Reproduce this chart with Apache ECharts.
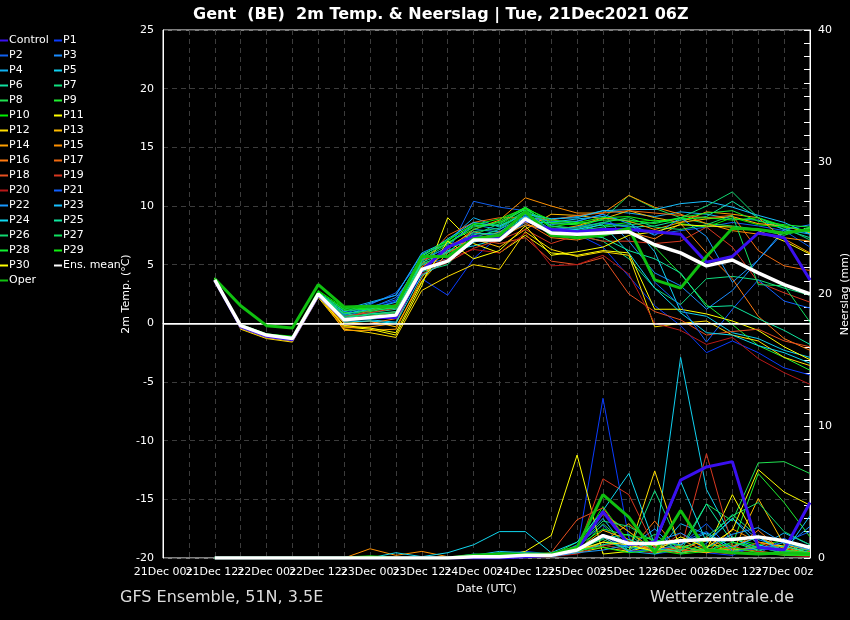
<!DOCTYPE html>
<html>
<head>
<meta charset="utf-8">
<script src="https://cdn.jsdelivr.net/npm/echarts@6/dist/echarts.min.js"></script>
<style>
html, body { margin: 0; padding: 0; background: #000; }
#main { width: 850px; height: 620px; }
</style>
</head>
<body>
<div id="main"></div>
<script>
// forecast hours after 21Dec 00z
var hours = [12, 18, 24, 30, 36, 42, 48, 54, 60, 66, 72, 78, 84, 90, 96, 102, 108, 114, 120, 126, 132, 138, 144, 150];
var dateLabels = ['21Dec 00z', '21Dec 12z', '22Dec 00z', '22Dec 12z', '23Dec 00z', '23Dec 12z',
    '24Dec 00z', '24Dec 12z', '25Dec 00z', '25Dec 12z', '26Dec 00z', '26Dec 12z', '27Dec 00z'];

var memberNames = ['P1', 'P2', 'P3', 'P4', 'P5', 'P6', 'P7', 'P8', 'P9', 'P10',
    'P11', 'P12', 'P13', 'P14', 'P15', 'P16', 'P17', 'P18', 'P19', 'P20',
    'P21', 'P22', 'P23', 'P24', 'P25', 'P26', 'P27', 'P28', 'P29', 'P30'];
var memberColors = ['#0a3cff', '#1060f0', '#1a8cff', '#10b0f0', '#10d0f0', '#10e0a0', '#10e080', '#20e050', '#20f030', '#00f000',
    '#ffff00', '#ffdd00', '#ffbb00', '#ffa000', '#ff9000', '#ff7a10', '#f06a10', '#e85020', '#d83820', '#b81818',
    '#1060ff', '#1898ff', '#18c0ff', '#10d8f0', '#10e8a0', '#10d870', '#10e060', '#10f030', '#10f010', '#ffff00'];

// 2m temperature (°C)
var tempControl = [3.7, -0.3, -1.1, -1.4, 2.4, 0.3, 0.5, 0.5, 4.5, 6.5, 7.4, 7.2, 8.8, 8.0, 7.8, 8.0, 8.0, 7.8, 7.6, 5.2, 5.7, 7.7, 7.3, 3.7];
var tempOper = [3.8, 1.5, -0.2, -0.4, 3.3, 1.4, 1.45, 1.45, 5.7, 5.7, 7.2, 7.5, 9.5, 7.5, 7.3, 7.5, 8.1, 3.7, 3.0, 5.7, 8.1, 8.0, 7.7, 8.0];
var tempMean = [3.7, -0.2, -1.0, -1.3, 2.5, 0.3, 0.5, 0.7, 4.6, 5.3, 7.1, 7.1, 8.9, 7.7, 7.6, 7.7, 7.8, 6.7, 6.0, 4.9, 5.4, 4.3, 3.3, 2.5];
var tempMembers = [
    [3.8, -0.4, -1.2, -1.5, 2.3, 0.6, 1.2, 1.9, 3.8, 2.4, 5.5, 7.5, 8.4, 7.8, 7.6, 6.5, 4.0, 1.5, -0.2, -2.5, -1.5, -2.5, -3.8, -4.4],
    [3.8, -0.3, -1.1, -1.4, 2.4, 0.8, 1.6, 2.6, 5.5, 6.0, 10.4, 9.9, 9.6, 8.3, 8.0, 8.6, 8.3, 7.6, 7.9, 8.2, 8.6, 8.3, 7.9, 6.5],
    [3.7, -0.2, -1.0, -1.3, 2.6, 1.0, 1.3, 2.2, 5.0, 5.5, 8.0, 7.8, 9.2, 8.4, 8.7, 9.3, 7.0, 4.3, 3.2, 1.2, 2.8, 5.4, 7.8, 7.8],
    [3.8, -0.2, -1.0, -1.2, 2.6, 1.2, 1.8, 2.4, 6.0, 7.0, 9.0, 8.2, 9.4, 8.9, 9.1, 9.6, 9.4, 9.1, 9.5, 9.3, 8.9, 8.8, 8.0, 7.6],
    [3.7, -0.3, -1.2, -1.4, 2.5, 0.3, 0.3, 0.1, 4.6, 6.2, 6.6, 7.2, 8.6, 8.6, 8.9, 9.1, 8.7, 6.1, 1.0, 0.6, -0.8, -1.3, -2.3, -2.9],
    [3.8, -0.1, -0.9, -1.2, 2.7, 0.7, 0.9, 1.2, 5.3, 6.5, 7.0, 7.5, 9.0, 8.0, 7.8, 8.5, 8.2, 8.3, 8.8, 9.1, 10.4, 9.0, 8.0, 7.3],
    [3.8, -0.2, -1.0, -1.2, 2.6, 0.2, 0.4, 0.5, 4.4, 5.0, 7.3, 8.0, 9.5, 7.8, 7.5, 7.0, 5.5, 3.0, 1.6, 3.8, 4.0, 3.7, 3.0, 2.4],
    [3.8, -0.2, -1.0, -1.3, 2.5, 0.4, 0.8, 0.9, 5.1, 5.8, 7.5, 8.5, 9.9, 8.1, 8.2, 8.9, 10.9, 9.8, 9.0, 8.5, 8.3, 8.0, 7.5, 8.2],
    [3.8, -0.3, -1.1, -1.4, 2.5, 0.9, 1.0, 1.4, 5.6, 6.8, 8.2, 8.6, 9.7, 8.5, 8.4, 7.9, 8.0, 6.5, 4.2, 1.6, -0.1, -1.9, -2.9, -4.0],
    [3.9, -0.1, -0.9, -1.1, 2.8, 1.3, 1.4, 1.5, 5.8, 7.0, 8.5, 8.3, 9.6, 8.2, 8.6, 8.3, 8.6, 8.8, 8.5, 8.2, 9.0, 8.4, 8.2, 7.9],
    [3.8, -0.4, -1.2, -1.5, 2.3, -0.3, -0.5, -1.0, 3.2, 9.0, 6.8, 6.0, 7.5, 6.0, 5.8, 6.2, 6.0, 1.2, 1.2, 0.8, 0.2, -0.6, -2.0, -3.1],
    [3.7, -0.5, -1.3, -1.6, 2.2, -0.5, -0.8, -1.2, 2.8, 4.0, 5.0, 4.6, 7.8, 6.3, 5.7, 6.1, 5.8, -0.3, 0.0, 0.2, -1.0, -1.5, -2.9, -3.6],
    [3.8, -0.3, -1.2, -1.4, 2.4, 0.0, 0.2, -0.3, 3.6, 6.0, 7.2, 6.5, 8.0, 9.3, 9.2, 8.9, 9.6, 9.0, 8.6, 8.9, 9.1, 8.5, 8.3, 7.7],
    [3.8, -0.3, -1.1, -1.4, 2.4, -0.6, -0.6, -0.5, 3.9, 6.5, 7.8, 7.3, 8.4, 7.9, 8.3, 9.0, 8.7, 8.0, 8.6, 9.5, 9.3, 9.0, 7.2, 6.0],
    [3.8, -0.2, -1.1, -1.3, 2.5, -0.4, -0.3, 0.0, 4.8, 6.3, 8.0, 8.8, 10.7, 10.0, 9.4, 9.4, 10.9, 9.9, 9.3, 8.5, 7.9, 7.6, 7.3, 7.0],
    [3.8, -0.3, -1.0, -1.3, 2.5, -0.2, 0.0, 0.4, 4.5, 6.6, 7.0, 7.8, 8.6, 7.3, 7.1, 7.6, 7.8, 7.2, 8.5, 6.0, 3.8, 0.6, -1.3, -2.3],
    [3.8, -0.2, -1.0, -1.3, 2.6, 0.1, 0.6, 1.0, 5.0, 7.5, 8.6, 9.0, 9.0, 8.8, 9.2, 9.4, 9.6, 9.4, 9.2, 9.0, 9.2, 6.2, 4.9, 4.5],
    [3.7, -0.4, -1.2, -1.5, 2.3, 0.4, 1.1, 1.6, 5.4, 6.0, 7.2, 6.8, 7.3, 5.3, 5.0, 5.6, 2.5, 1.0, 0.3, -1.0, -0.7, -0.5, -1.5, -2.0],
    [3.8, -0.3, -1.1, -1.4, 2.4, 0.6, 0.9, 1.3, 4.2, 5.2, 6.4, 7.1, 8.0, 6.8, 7.5, 7.0, 7.0, 6.8, 7.0, 8.2, 6.5, 3.5, 2.6, 1.8],
    [3.8, -0.3, -1.1, -1.4, 2.4, 0.3, 0.5, 0.8, 4.7, 5.5, 6.3, 6.0, 7.7, 4.9, 5.0, 5.8, 4.2, 0.0, -0.6, -1.8, -1.2, -3.0, -4.2, -5.2],
    [3.8, -0.3, -1.0, -1.3, 2.5, 0.7, 1.4, 2.0, 5.5, 6.4, 7.7, 7.5, 8.7, 8.0, 8.2, 8.6, 8.2, 3.5, 1.5, -1.6, 1.2, 3.7, 1.9, 1.3],
    [3.8, -0.2, -1.0, -1.3, 2.6, 1.0, 1.7, 2.4, 5.9, 6.8, 8.4, 8.0, 9.1, 8.7, 8.7, 9.3, 8.5, 7.5, 9.0, 7.4, 3.5, 5.4, 8.0, 8.4],
    [3.8, -0.2, -1.0, -1.2, 2.6, 0.8, 1.2, 1.8, 5.7, 7.2, 8.6, 8.3, 9.3, 8.9, 9.0, 9.6, 9.7, 9.7, 10.2, 10.4, 9.9, 9.2, 8.6, 7.6],
    [3.7, -0.3, -1.1, -1.4, 2.5, 0.1, 0.2, 0.0, 4.1, 5.3, 6.9, 7.6, 9.1, 7.9, 8.0, 8.4, 6.0, 3.0, 0.9, -0.8, -1.0, -1.9, -2.5, -3.4],
    [3.8, -0.2, -1.0, -1.3, 2.6, 0.5, 0.8, 1.0, 5.2, 6.1, 7.6, 7.7, 9.4, 8.0, 7.6, 7.3, 6.2, 5.5, 4.3, 1.4, 1.5, 0.4, -0.6, -1.8],
    [3.8, -0.2, -1.0, -1.2, 2.6, 0.6, 0.7, 0.9, 5.0, 6.0, 7.8, 8.1, 9.6, 7.5, 7.9, 8.2, 8.4, 8.6, 9.0, 10.0, 11.2, 9.0, 8.2, 7.1],
    [3.8, -0.2, -1.0, -1.3, 2.5, 0.8, 1.1, 1.3, 5.4, 6.7, 8.3, 8.4, 9.8, 8.3, 8.1, 8.6, 9.0, 8.2, 8.0, 8.4, 9.2, 3.3, 3.2, 0.1],
    [3.8, -0.3, -1.1, -1.4, 2.5, 1.1, 1.2, 1.4, 5.6, 6.9, 8.0, 8.7, 9.9, 8.6, 8.5, 8.8, 8.8, 8.5, 9.0, 9.4, 9.6, 8.7, 8.4, 8.2],
    [3.8, -0.2, -1.0, -1.2, 2.7, 1.2, 1.3, 1.5, 5.8, 7.1, 8.4, 8.9, 9.8, 8.8, 8.6, 9.0, 9.1, 8.7, 8.9, 9.0, 8.8, 9.0, 8.3, 7.8],
    [3.8, -0.4, -1.2, -1.5, 2.3, -0.2, -0.4, -0.8, 3.5, 7.0, 5.5, 6.2, 8.3, 5.8, 6.1, 6.5, 7.5, 7.8, 8.4, 8.3, 8.2, 7.9, 7.0, 5.9]
];

// 6-hourly precipitation (mm)
var rainControl = [0, 0, 0, 0, 0, 0, 0, 0, 0, 0, 0, 0, 0.1, 0.2, 0.6, 3.5, 1.0, 1.2, 5.9, 6.9, 7.3, 0.8, 0.6, 4.2];
var rainOper = [0, 0, 0, 0, 0, 0, 0.1, 0, 0, 0, 0.2, 0.3, 0.3, 0.3, 0.8, 4.8, 3.1, 0.4, 3.6, 0.6, 0.4, 0.3, 0.4, 0.3];
var rainMean = [0, 0, 0, 0, 0, 0, 0, 0, 0, 0, 0.1, 0.1, 0.2, 0.2, 0.6, 1.7, 1.1, 1.1, 1.3, 1.4, 1.4, 1.6, 1.3, 0.8];
var rainMembers = [
    [0, 0, 0, 0, 0, 0, 0, 0, 0, 0, 0, 0.3, 0.5, 0.3, 0.5, 12.1, 1.5, 0.3, 0.6, 0.4, 0.2, 1.0, 0.5, 0.8],
    [0, 0, 0, 0, 0, 0, 0, 0, 0, 0, 0.1, 0.2, 0.2, 0.1, 1.0, 2.5, 0.4, 0.8, 1.2, 2.0, 0.5, 0.3, 1.5, 0.4],
    [0, 0, 0, 0, 0, 0, 0, 0, 0, 0, 0, 0.1, 0.3, 0.2, 0.4, 1.8, 0.8, 2.2, 0.3, 1.1, 3.0, 1.4, 0.8, 2.4],
    [0, 0, 0, 0, 0, 0, 0, 0, 0, 0, 0.3, 0.2, 0.1, 0.2, 0.9, 3.0, 0.5, 0.3, 2.6, 1.8, 0.6, 0.8, 1.9, 1.0],
    [0, 0, 0, 0, 0, 0, 0, 0, 0, 0, 0.1, 0.2, 0.3, 0.2, 0.5, 1.2, 0.8, 0.6, 15.2, 5.2, 1.5, 0.8, 0.4, 0.3],
    [0, 0, 0, 0, 0, 0, 0, 0, 0, 0, 0, 0.1, 0.2, 0.3, 0.5, 1.5, 1.8, 0.3, 0.9, 0.4, 1.6, 0.5, 1.2, 0.2],
    [0, 0, 0, 0, 0, 0, 0, 0, 0, 0, 0.1, 0.4, 0.3, 0.1, 0.8, 1.0, 0.6, 5.1, 0.8, 1.3, 3.3, 1.6, 0.5, 0.7],
    [0, 0, 0, 0, 0, 0, 0, 0, 0, 0, 0, 0.2, 0.2, 0.3, 0.4, 2.6, 0.9, 0.5, 0.8, 4.1, 2.8, 7.2, 7.3, 6.4],
    [0, 0, 0, 0, 0, 0, 0, 0, 0, 0, 0.1, 0.1, 0.3, 0.2, 1.2, 3.4, 2.0, 0.4, 0.6, 0.9, 1.0, 6.4, 4.2, 1.6],
    [0, 0, 0, 0, 0, 0, 0, 0, 0, 0, 0.2, 0.1, 0.2, 0.2, 0.7, 3.9, 1.2, 1.0, 0.4, 0.8, 1.5, 1.0, 1.3, 0.5],
    [0, 0, 0, 0, 0, 0, 0, 0, 0, 0, 0, 0.1, 0.5, 1.7, 7.8, 0.3, 0.5, 1.0, 0.4, 0.6, 4.8, 1.2, 0.9, 0.4],
    [0, 0, 0, 0, 0, 0, 0, 0, 0, 0, 0, 0.1, 0.2, 0.1, 0.4, 0.8, 0.5, 6.6, 0.6, 0.4, 0.7, 0.5, 0.3, 0.2],
    [0, 0, 0, 0, 0, 0, 0, 0, 0, 0, 0.1, 0.2, 0.1, 0.2, 0.6, 2.1, 1.4, 0.4, 0.8, 1.3, 0.4, 4.5, 1.0, 0.6],
    [0, 0, 0, 0, 0, 0, 0, 0, 0, 0, 0, 0, 0.1, 0.3, 0.4, 1.2, 2.6, 0.8, 1.4, 0.5, 0.9, 1.6, 0.7, 0.2],
    [0, 0, 0, 0, 0, 0, 0.7, 0.2, 0.5, 0.1, 0.1, 0.2, 0.1, 0.3, 0.9, 3.3, 2.0, 0.6, 0.9, 0.4, 2.2, 1.2, 0.8, 0.3],
    [0, 0, 0, 0, 0, 0, 0, 0, 0, 0, 0.1, 0.2, 0.1, 0.3, 0.5, 1.6, 0.5, 2.8, 0.4, 0.7, 0.6, 2.1, 0.4, 0.3],
    [0, 0, 0, 0, 0, 0, 0, 0, 0, 0, 0, 0, 0.2, 0.2, 0.8, 0.9, 1.3, 0.6, 0.4, 1.6, 0.5, 0.8, 0.6, 0.2],
    [0, 0, 0, 0, 0, 0, 0, 0, 0, 0, 0, 0.1, 0.2, 0.4, 2.9, 3.8, 1.1, 0.5, 0.6, 0.5, 0.3, 1.2, 0.4, 0.5],
    [0, 0, 0, 0, 0, 0, 0, 0, 0, 0, 0, 0.1, 0.1, 0.2, 0.5, 6.0, 4.8, 0.8, 0.6, 7.9, 0.9, 0.4, 0.3, 0.2],
    [0, 0, 0, 0, 0, 0, 0, 0, 0, 0, 0, 0, 0.1, 0.1, 0.3, 1.0, 0.6, 0.4, 1.9, 0.6, 0.4, 0.5, 0.2, 0.1],
    [0, 0, 0, 0, 0, 0, 0, 0, 0, 0, 0.2, 0.3, 0.4, 0.2, 0.7, 1.8, 0.5, 0.6, 1.0, 2.6, 0.5, 0.7, 1.2, 2.0],
    [0, 0, 0, 0, 0, 0, 0, 0, 0, 0, 0.1, 0.2, 0.3, 0.1, 0.4, 0.6, 1.0, 1.2, 1.9, 0.8, 1.8, 2.3, 1.1, 0.6],
    [0, 0, 0, 0, 0, 0, 0, 0, 0, 0, 0.2, 0.5, 0.4, 0.3, 0.6, 1.6, 0.5, 1.3, 1.0, 1.9, 0.8, 1.6, 0.4, 3.2],
    [0, 0, 0, 0, 0, 0, 0, 0.4, 0.1, 0.4, 1.0, 2.0, 2.0, 0.4, 1.2, 3.6, 6.4, 1.0, 5.8, 1.2, 3.0, 1.0, 0.5, 0.3],
    [0, 0, 0, 0, 0, 0, 0, 0, 0, 0, 0.1, 0.2, 0.3, 0.2, 0.5, 1.0, 1.4, 0.7, 0.5, 4.1, 1.2, 0.6, 0.9, 0.4],
    [0, 0, 0, 0, 0, 0, 0, 0, 0, 0, 0, 0.2, 0.2, 0.3, 0.8, 2.8, 2.4, 1.2, 0.6, 1.6, 3.2, 4.2, 2.0, 1.0],
    [0, 0, 0, 0, 0, 0, 0, 0, 0, 0, 0.1, 0.2, 0.1, 0.3, 0.7, 1.4, 0.6, 1.8, 0.4, 0.7, 0.5, 0.9, 0.3, 0.2],
    [0, 0, 0, 0, 0, 0, 0, 0, 0, 0, 0, 0.3, 0.2, 0.2, 0.9, 2.2, 1.7, 1.4, 0.9, 0.5, 1.2, 0.8, 0.6, 0.4],
    [0, 0, 0, 0, 0, 0, 0, 0, 0, 0, 0.2, 0.1, 0.2, 0.3, 0.6, 0.8, 0.4, 0.6, 0.3, 0.5, 0.8, 0.4, 0.2, 0.2],
    [0, 0, 0, 0, 0, 0, 0, 0, 0, 0, 0, 0.1, 0.2, 0.3, 0.6, 1.2, 1.0, 0.5, 1.6, 0.8, 2.1, 6.7, 5.0, 4.0]
];

var FONT = 'DejaVu Sans';

function line(name, color, values, axis, width, z) {
    return {
        name: name,
        type: 'line',
        yAxisIndex: axis,
        color: color,
        data: hours.map(function (h, i) { return [h, values[i]]; }),
        symbol: 'none',
        showSymbol: false,
        silent: true,
        lineStyle: { width: width, color: color },
        z: z
    };
}

var series = [];
memberNames.forEach(function (n, i) {
    series.push(line(n, memberColors[i], rainMembers[i], 1, 1, 2));
});
memberNames.forEach(function (n, i) {
    series.push(line(n, memberColors[i], tempMembers[i], 0, 1, 3));
});
series.push(line('Control', '#3a10f0', rainControl, 1, 3, 4));
series.push(line('Control', '#3a10f0', tempControl, 0, 3, 4));
series.push(line('Oper', '#10c010', rainOper, 1, 3, 5));
series.push(line('Oper', '#10c010', tempOper, 0, 3, 5));
series.push(line('Ens. mean', '#ffffff', rainMean, 1, 3.5, 6));
series.push(line('Ens. mean', '#ffffff', tempMean, 0, 3.5, 6));

// freezing line under the temperature members
series[30].markLine = {
    silent: true,
    symbol: 'none',
    label: { show: false },
    lineStyle: { color: '#ffffff', width: 1.5, type: 'solid' },
    data: [{ yAxis: 0 }]
};

var leftCol = ['Control'], rightCol = [];
memberNames.forEach(function (n, i) {
    if (i % 2 === 0) rightCol.push(n); else leftCol.push(n);
});
rightCol.push('Ens. mean');
leftCol.push('Oper');

function legend(names, left) {
    return {
        data: names,
        orient: 'vertical',
        left: left,
        top: 33,
        padding: 0,
        itemGap: 0,
        itemWidth: 8,
        itemHeight: 2,
        icon: 'rect',
        selectedMode: false,
        textStyle: { color: '#ffffff', fontSize: 11, fontFamily: FONT, lineHeight: 15, padding: [0, 0, 0, -4] }
    };
}

var chart = echarts.init(document.getElementById('main'));
chart.setOption({
    backgroundColor: '#000000',
    animation: false,
    title: {
        text: 'Gent  (BE)  2m Temp. & Neerslag | Tue, 21Dec2021 06Z',
        left: 188,
        top: 2,
        textStyle: { color: '#ffffff', fontSize: 16, fontWeight: 'bold', fontFamily: FONT }
    },
    legend: [legend(leftCol, 0), legend(rightCol, 54)],
    grid: {
        left: 163, right: 40, top: 30, bottom: 62,
        outerBoundsMode: 'none',
        show: true, borderColor: '#ffffff', borderWidth: 1
    },
    xAxis: {
        type: 'value',
        min: 0,
        max: 150,
        interval: 6,
        name: 'Date (UTC)',
        nameLocation: 'middle',
        nameGap: 26,
        nameMoveOverlap: false,
        nameTextStyle: { color: '#ffffff', fontSize: 11, fontFamily: FONT },
        axisLine: { lineStyle: { color: '#ffffff' } },
        axisTick: { show: false },
        axisLabel: {
            color: '#ffffff', fontSize: 11, fontFamily: FONT, margin: 9,
            showMaxLabel: true,
            formatter: function (v) { return v % 12 === 0 ? dateLabels[v / 12] : ''; }
        },
        splitLine: { show: true, lineStyle: { color: '#3c3c3c', type: [5, 4] } }
    },
    yAxis: [
        {
            type: 'value',
            min: -20,
            max: 25,
            interval: 5,
            name: '2m Temp. (°C)',
            nameLocation: 'middle',
            nameGap: 31,
            nameRotate: 90,
            nameMoveOverlap: false,
            nameTextStyle: { color: '#ffffff', fontSize: 11, fontFamily: FONT },
            axisLine: { show: true, lineStyle: { color: '#ffffff' } },
            axisTick: { show: false },
            axisLabel: { color: '#ffffff', fontSize: 11, fontFamily: FONT, margin: 9 },
            splitLine: { show: true, lineStyle: { color: '#3c3c3c', type: [5, 4] } }
        },
        {
            type: 'value',
            position: 'right',
            min: 0,
            max: 40,
            interval: 10,
            name: 'Neerslag (mm)',
            nameLocation: 'middle',
            nameGap: 30,
            nameRotate: 90,
            nameMoveOverlap: false,
            nameTextStyle: { color: '#ffffff', fontSize: 11, fontFamily: FONT },
            axisLine: { show: true, lineStyle: { color: '#ffffff' } },
            axisTick: { show: true, inside: true, length: 6, lineStyle: { color: '#ffffff' } },
            minorTick: { show: true, splitNumber: 10, length: 6, lineStyle: { color: '#ffffff' } },
            axisLabel: { color: '#ffffff', fontSize: 11, fontFamily: FONT, margin: 8 },
            splitLine: { show: false }
        }
    ],
    graphic: [
        { type: 'text', left: 120, top: 590, style: { text: 'GFS Ensemble, 51N, 3.5E', fill: '#dddddd', font: '16px "DejaVu Sans"' } },
        { type: 'text', left: 650, top: 590, style: { text: 'Wetterzentrale.de', fill: '#dddddd', font: '16px "DejaVu Sans"' } }
    ],
    series: series
});
</script>
</body>
</html>
